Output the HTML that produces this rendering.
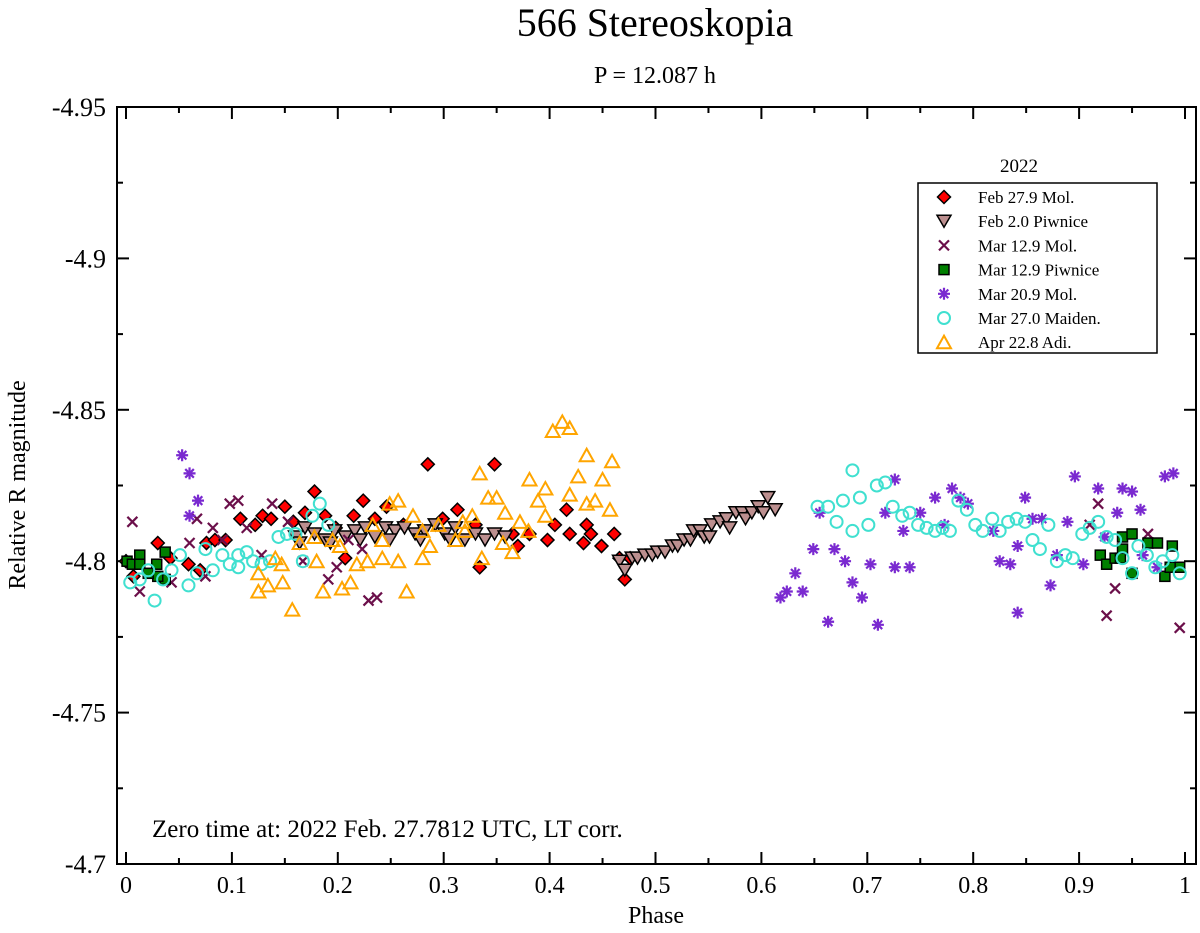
<!DOCTYPE html>
<html><head><meta charset="utf-8"><style>
html,body{margin:0;padding:0;background:#fff;}
svg{display:block;font-family:"Liberation Serif",serif;}
</style></head><body>
<svg id="chart" width="1200" height="933" viewBox="0 0 1200 933" xmlns="http://www.w3.org/2000/svg">
<text x="655" y="36" text-anchor="middle" font-size="40">566 Stereoskopia</text>
<text x="655" y="83" text-anchor="middle" font-size="24">P = 12.087 h</text>
<rect x="117" y="107" width="1079" height="757" fill="none" stroke="#000" stroke-width="2"/>
<g id="axes"></g>
<g id="marks"></g>
<text x="656" y="923" text-anchor="middle" font-size="24">Phase</text>
<text transform="translate(25,485) rotate(-90)" text-anchor="middle" font-size="24">Relative R magnitude</text>
<text x="152" y="837" font-size="25">Zero time at: 2022 Feb. 27.7812 UTC, LT corr.</text>
<text x="1019" y="172" text-anchor="middle" font-size="19">2022</text>
<rect x="918" y="183" width="239" height="170" fill="#fff" stroke="#000" stroke-width="1.5"/>
<g id="legend"></g>
</svg>
<script>
const xTicks=[0,0.1,0.2,0.3,0.4,0.5,0.6,0.7,0.8,0.9,1];
const xTickLabels=["0","0.1","0.2","0.3","0.4","0.5","0.6","0.7","0.8","0.9","1"];
const yTicks=[-4.95,-4.9,-4.85,-4.8,-4.75,-4.7];
const yTickLabels=["-4.95","-4.9","-4.85","-4.8","-4.75","-4.7"];
const seriesNames=["Feb 27.9 Mol.","Feb 2.0 Piwnice","Mar 12.9 Mol.","Mar 12.9 Piwnice","Mar 20.9 Mol.","Mar 27.0 Maiden.","Apr 22.8 Adi."];
const febMolPhase=[0.000,0.007,0.030,0.042,0.059,0.070,0.076,0.084,0.094,0.108,0.122,0.129,0.137,0.150,0.158,0.169,0.178,0.188,0.198,0.207,0.215,0.224,0.235,0.246,0.262,0.285,0.299,0.313,0.330,0.334,0.348,0.365,0.370,0.381,0.398,0.405,0.416,0.419,0.432,0.435,0.439,0.449,0.461,0.466,0.471,0.476];
const febMolMag=[-4.800,-4.795,-4.806,-4.801,-4.799,-4.797,-4.806,-4.807,-4.807,-4.814,-4.812,-4.815,-4.814,-4.818,-4.813,-4.816,-4.823,-4.815,-4.811,-4.801,-4.815,-4.820,-4.814,-4.818,-4.812,-4.832,-4.814,-4.817,-4.812,-4.798,-4.832,-4.809,-4.805,-4.809,-4.807,-4.812,-4.817,-4.809,-4.806,-4.812,-4.809,-4.805,-4.809,-4.801,-4.794,-4.801];
const febPiwPhase=[0.160,0.169,0.178,0.188,0.197,0.207,0.216,0.226,0.235,0.245,0.254,0.263,0.273,0.282,0.292,0.301,0.311,0.320,0.330,0.339,0.348,0.358,0.164,0.193,0.221,0.249,0.278,0.306,0.466,0.471,0.478,0.483,0.490,0.497,0.502,0.509,0.516,0.521,0.527,0.533,0.536,0.542,0.546,0.551,0.553,0.561,0.567,0.570,0.576,0.582,0.585,0.591,0.597,0.602,0.606,0.613];
const febPiwMag=[-4.808,-4.811,-4.809,-4.807,-4.810,-4.808,-4.810,-4.811,-4.808,-4.811,-4.810,-4.811,-4.809,-4.810,-4.812,-4.809,-4.811,-4.807,-4.809,-4.807,-4.809,-4.808,-4.806,-4.806,-4.807,-4.807,-4.807,-4.807,-4.800,-4.797,-4.801,-4.801,-4.802,-4.802,-4.803,-4.803,-4.805,-4.805,-4.807,-4.807,-4.810,-4.810,-4.808,-4.808,-4.812,-4.813,-4.814,-4.811,-4.816,-4.816,-4.814,-4.816,-4.818,-4.816,-4.821,-4.817];
const marMolPhase=[0.006,0.098,0.106,0.138,0.082,0.067,0.153,0.114,0.091,0.060,0.128,0.199,0.191,0.229,0.237,0.075,0.013,0.043,0.167,0.210,0.223,0.918,0.965,0.934,0.926,0.995,0.910];
const marMolMag=[-4.813,-4.819,-4.820,-4.819,-4.811,-4.814,-4.813,-4.811,-4.807,-4.806,-4.802,-4.798,-4.794,-4.787,-4.788,-4.795,-4.790,-4.793,-4.800,-4.807,-4.804,-4.819,-4.809,-4.791,-4.782,-4.778,-4.812];
const marPiwPhase=[0.001,0.006,0.013,0.013,0.029,0.037,0.037,0.030,0.021,0.920,0.926,0.934,0.941,0.950,0.941,0.950,0.965,0.974,0.988,0.981,0.995,0.939,0.986];
const marPiwMag=[-4.800,-4.799,-4.802,-4.799,-4.799,-4.803,-4.794,-4.795,-4.796,-4.802,-4.799,-4.801,-4.808,-4.809,-4.804,-4.796,-4.806,-4.806,-4.805,-4.795,-4.798,-4.801,-4.798];
const mar20Phase=[0.053,0.060,0.068,0.060,0.618,0.624,0.639,0.632,0.649,0.655,0.663,0.669,0.679,0.686,0.695,0.710,0.703,0.726,0.740,0.726,0.717,0.734,0.750,0.764,0.780,0.788,0.795,0.773,0.819,0.825,0.835,0.842,0.842,0.849,0.856,0.865,0.873,0.879,0.889,0.896,0.904,0.918,0.936,0.941,0.950,0.958,0.924,0.981,0.989,0.960,0.974];
const mar20Mag=[-4.835,-4.829,-4.820,-4.815,-4.788,-4.790,-4.790,-4.796,-4.804,-4.816,-4.780,-4.804,-4.800,-4.793,-4.788,-4.779,-4.799,-4.798,-4.798,-4.827,-4.816,-4.810,-4.816,-4.821,-4.824,-4.821,-4.819,-4.812,-4.810,-4.800,-4.799,-4.805,-4.783,-4.821,-4.814,-4.814,-4.792,-4.802,-4.813,-4.828,-4.799,-4.824,-4.816,-4.824,-4.823,-4.817,-4.808,-4.828,-4.829,-4.802,-4.798];
const maidPhase=[0.004,0.013,0.021,0.027,0.035,0.043,0.051,0.059,0.067,0.075,0.082,0.091,0.098,0.106,0.106,0.114,0.120,0.128,0.136,0.144,0.152,0.160,0.176,0.183,0.191,0.167,0.653,0.663,0.671,0.686,0.677,0.686,0.693,0.701,0.709,0.717,0.724,0.733,0.740,0.748,0.756,0.764,0.771,0.778,0.786,0.794,0.802,0.809,0.818,0.825,0.833,0.841,0.849,0.856,0.863,0.871,0.879,0.887,0.894,0.903,0.910,0.918,0.926,0.934,0.941,0.950,0.956,0.964,0.972,0.979,0.988,0.995];
const maidMag=[-4.793,-4.794,-4.797,-4.787,-4.794,-4.797,-4.802,-4.792,-4.796,-4.804,-4.797,-4.802,-4.799,-4.798,-4.802,-4.803,-4.800,-4.799,-4.800,-4.808,-4.809,-4.809,-4.815,-4.819,-4.812,-4.800,-4.818,-4.818,-4.813,-4.830,-4.820,-4.810,-4.821,-4.812,-4.825,-4.826,-4.818,-4.815,-4.816,-4.812,-4.811,-4.810,-4.811,-4.810,-4.820,-4.817,-4.812,-4.810,-4.814,-4.810,-4.813,-4.814,-4.813,-4.807,-4.804,-4.812,-4.800,-4.802,-4.801,-4.809,-4.811,-4.813,-4.808,-4.807,-4.801,-4.796,-4.805,-4.802,-4.798,-4.800,-4.802,-4.796];
const adiPhase=[0.334,0.342,0.350,0.358,0.249,0.257,0.233,0.242,0.271,0.280,0.287,0.295,0.318,0.327,0.311,0.320,0.336,0.178,0.164,0.195,0.202,0.141,0.147,0.125,0.134,0.125,0.148,0.157,0.180,0.186,0.204,0.212,0.218,0.228,0.242,0.257,0.265,0.280,0.381,0.396,0.389,0.396,0.372,0.380,0.356,0.365,0.403,0.412,0.419,0.435,0.427,0.419,0.435,0.443,0.450,0.459,0.457];
const adiMag=[-4.829,-4.821,-4.821,-4.816,-4.819,-4.820,-4.812,-4.807,-4.815,-4.810,-4.805,-4.812,-4.813,-4.815,-4.807,-4.810,-4.801,-4.808,-4.806,-4.807,-4.805,-4.801,-4.799,-4.796,-4.792,-4.790,-4.793,-4.784,-4.800,-4.790,-4.791,-4.793,-4.799,-4.800,-4.801,-4.800,-4.790,-4.801,-4.827,-4.824,-4.820,-4.815,-4.813,-4.810,-4.806,-4.803,-4.843,-4.846,-4.844,-4.835,-4.828,-4.822,-4.819,-4.820,-4.827,-4.833,-4.817];

const NS="http://www.w3.org/2000/svg";
const L=117,R=1196,T=107,B=864;
function xs(p){return 126+p*1059;}
function ys(m){return T+(m+4.95)/0.25*(B-T);}
function mk(tag,attrs,parent){const e=document.createElementNS(NS,tag);for(const k in attrs)e.setAttribute(k,attrs[k]);parent.appendChild(e);return e;}
const axes=document.getElementById('axes'),marks=document.getElementById('marks'),legend=document.getElementById('legend');
// ticks
xTicks.forEach((t,i)=>{
  const x=xs(t);
  const a=mk('line',{x1:x,x2:x,y1:B,y2:B-12,stroke:'#000','stroke-width':2},axes);
  
  
  const b=mk('line',{x1:x,x2:x,y1:T,y2:T+12,stroke:'#000','stroke-width':2},axes);
  
  
  if(i<xTicks.length-1){const xm=xs(t+0.05);
    const c=mk('line',{x1:xm,x2:xm,y1:B,y2:B-6,stroke:'#000','stroke-width':2},axes);
    
    
    const d=mk('line',{x1:xm,x2:xm,y1:T,y2:T+6,stroke:'#000','stroke-width':2},axes);
    
    }
  const tx=mk('text',{x:x,y:893,'text-anchor':'middle','font-size':24},axes);
  tx.textContent=xTickLabels[i];
  
  
});
yTicks.forEach((t,i)=>{
  const y=ys(t);
  const a=mk('line',{x1:L,x2:L+12,y1:y,y2:y,stroke:'#000','stroke-width':2},axes);
  
  
  const b=mk('line',{x1:R,x2:R-12,y1:y,y2:y,stroke:'#000','stroke-width':2},axes);
  
  
  if(i<yTicks.length-1){const ym=ys(t+0.025);
    const c=mk('line',{x1:L,x2:L+6,y1:ym,y2:ym,stroke:'#000','stroke-width':2},axes);
    
    
    const d=mk('line',{x1:R,x2:R-6,y1:ym,y2:ym,stroke:'#000','stroke-width':2},axes);
    
    }
  const tx=mk('text',{x:106,y:y+9,'text-anchor':'end','font-size':26},axes);
  tx.textContent=yTickLabels[i];
  
  
});
function drawMarker(type,x,y,parent){
  let e;
  if(type==='diamond'){e=mk('polygon',{points:`${x},${y-6.5} ${x+6.5},${y} ${x},${y+6.5} ${x-6.5},${y}`,fill:'#f00',stroke:'#000','stroke-width':1.5},parent);}
  else if(type==='tdown'){e=mk('polygon',{points:`${x-7},${y-6} ${x+7},${y-6} ${x},${y+6}`,fill:'#bc8f8f',stroke:'#000','stroke-width':1.5},parent);}
  else if(type==='x'){e=mk('path',{d:`M${x-5},${y-5}L${x+5},${y+5}M${x+5},${y-5}L${x-5},${y+5}`,stroke:'#6b0f4a','stroke-width':2.2,fill:'none'},parent);}
  else if(type==='square'){e=mk('rect',{x:x-5,y:y-5,width:10,height:10,fill:'#008000',stroke:'#000','stroke-width':1.5},parent);}
  else if(type==='star'){e=mk('path',{d:`M${x-6},${y}L${x+6},${y}M${x},${y-6}L${x},${y+6}M${x-4.3},${y-4.3}L${x+4.3},${y+4.3}M${x+4.3},${y-4.3}L${x-4.3},${y+4.3}`,stroke:'#7a2ad0','stroke-width':2.2,fill:'none'},parent);}
  else if(type==='circle'){e=mk('circle',{cx:x,cy:y,r:6,fill:'none',stroke:'#40e0d0','stroke-width':2},parent);}
  else {e=mk('polygon',{points:`${x-7},${y+6} ${x+7},${y+6} ${x},${y-6.5}`,fill:'none',stroke:'#ffa500','stroke-width':2},parent);}
  return e;
}
const series=[[febMolPhase,febMolMag,'diamond','feb27-mol'],[febPiwPhase,febPiwMag,'tdown','feb2-piwnice'],[marMolPhase,marMolMag,'x','mar12-mol'],[marPiwPhase,marPiwMag,'square','mar12-piwnice'],[mar20Phase,mar20Mag,'star','mar20-mol'],[maidPhase,maidMag,'circle','mar27-maiden'],[adiPhase,adiMag,'tup','apr22-adi']];
series.forEach(s=>{
  const g=mk('g',{},marks);
  
  
  s[0].forEach((p,i)=>{
    const e=drawMarker(s[2],xs(p),ys(s[1][i]),g);
    
    
  });
});
series.forEach((s,i)=>{
  const y=197+i*24.2;
  const g=mk('g',{},legend);
  
  
  drawMarker(s[2],944,y,g);
  const t=mk('text',{x:978,y:y+6,'font-size':17},g);
  t.textContent=seriesNames[i];
});
</script>
</body></html>
